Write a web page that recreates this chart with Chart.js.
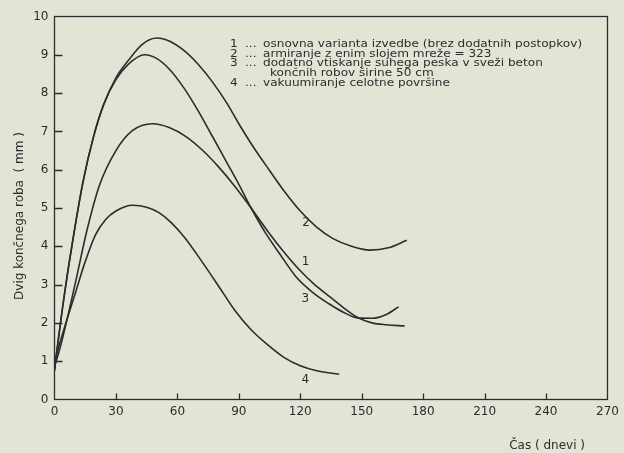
<!DOCTYPE html>
<html><head><meta charset="utf-8">
<script src="https://cdn.jsdelivr.net/npm/chart.js@4"></script>
<style>
html,body{margin:0;padding:0;background:#e4e4d6;}
canvas{display:block;}
</style></head><body>
<canvas id="c" width="624" height="453"></canvas>
<script>
// ---- data ----
const xTicks = [0, 30, 60, 90, 120, 150, 180, 210, 240, 270];
const yTicks = [0, 1, 2, 3, 4, 5, 6, 7, 8, 9, 10];

const seriesNumbers = ['1', '2', '3', '4'];
const seriesNames = [
  'osnovna varianta izvedbe (brez dodatnih postopkov)',
  'armiranje z enim slojem mreže = 323',
  'dodatno vtiskanje suhega peska v sveži beton končnih robov širine 50 cm',
  'vakuumiranje celotne površine'
];

const days1 = [0, 3, 10, 16, 22, 30, 38, 48, 56, 64, 72, 80, 88, 96, 104, 112, 120, 127, 134, 141, 148, 155, 162, 171];
const vals1 = [0.85, 1.4, 3.0, 4.45, 5.6, 6.5, 7.02, 7.2, 7.1, 6.87, 6.52, 6.08, 5.57, 5.0, 4.4, 3.85, 3.36, 3.0, 2.7, 2.4, 2.14, 2.0, 1.95, 1.92];

const days2 = [0, 1, 5, 10, 14, 19, 24, 30, 36, 43, 50, 56, 63, 70, 77, 84, 90, 97, 105, 112, 120, 128, 136, 145, 154, 163, 172];
const vals2 = [0.75, 1.2, 2.8, 4.5, 5.7, 6.85, 7.7, 8.4, 8.85, 9.28, 9.44, 9.36, 9.12, 8.76, 8.3, 7.75, 7.2, 6.6, 5.98, 5.45, 4.92, 4.5, 4.2, 4.0, 3.9, 3.96, 4.16];

const days3 = [0, 1, 5, 10, 14, 19, 24, 30, 36, 44, 50, 56, 63, 70, 77, 84, 90, 96, 103, 110, 118, 126, 134, 141, 148, 155, 162, 168];
const vals3 = [0.75, 1.2, 2.8, 4.5, 5.7, 6.85, 7.7, 8.35, 8.75, 9.0, 8.9, 8.63, 8.15, 7.55, 6.88, 6.2, 5.62, 5.0, 4.35, 3.8, 3.2, 2.8, 2.5, 2.28, 2.13, 2.12, 2.22, 2.42];

const days4 = [0, 3, 10, 15, 20, 25, 30, 38, 45, 51, 57, 64, 72, 80, 88, 96, 104, 112, 120, 128, 139];
const vals4 = [0.95, 1.55, 2.75, 3.6, 4.3, 4.7, 4.92, 5.07, 5.02, 4.88, 4.62, 4.2, 3.6, 2.97, 2.33, 1.82, 1.43, 1.1, 0.88, 0.75, 0.66];

// curve number labels placed on the plot (data coordinates)
const curveLabelText = ['1', '2', '3', '4'];
const curveLabelDay = [122.6, 122.8, 122.4, 122.4];
const curveLabelVal = [3.59, 4.61, 2.62, 0.51];

const xTitle = 'Čas ( dnevi )';
const yTitle = 'Dvig končnega roba  ( mm )';

// legend rows: number + text (row without number is a continuation line)
const legendNums = ['1', '2', '3', '', '4'];
const legendTexts = [
  'osnovna varianta izvedbe (brez dodatnih postopkov)',
  'armiranje z enim slojem mreže = 323',
  'dodatno vtiskanje suhega peska v sveži beton',
  'končnih robov širine 50 cm',
  'vakuumiranje celotne površine'
];

// ---- styles ----
const BG = '#e4e4d6';
const INK = '#2c2c2c';
const FONT = 'DejaVu Sans';

function pts(d, v) { return d.map((x, i) => ({ x: x, y: v[i] })); }
const allDays = [days1, days2, days3, days4];
const allVals = [vals1, vals2, vals3, vals4];

const datasets = seriesNames.map((name, i) => ({
  label: seriesNumbers[i] + ' ... ' + name,
  data: pts(allDays[i], allVals[i]),
  borderColor: INK,
  borderWidth: 1.6,
  pointRadius: 0,
  fill: false,
  cubicInterpolationMode: 'monotone'
}));

function stretchedText(ctx, t, x, yb, sx) {
  ctx.save();
  ctx.translate(x, yb);
  ctx.scale(sx, 1);
  ctx.fillText(t, 0, 0);
  ctx.restore();
}

const decor = {
  id: 'decor',
  beforeDraw(chart) {
    const ctx = chart.ctx;
    ctx.save();
    ctx.fillStyle = BG;
    ctx.fillRect(0, 0, chart.width, chart.height);
    ctx.restore();
  },
  afterDraw(chart) {
    const ctx = chart.ctx, a = chart.chartArea, x = chart.scales.x, y = chart.scales.y;
    ctx.save();
    ctx.strokeStyle = INK;
    ctx.lineWidth = 1.3;
    ctx.strokeRect(a.left, a.top, a.right - a.left, a.bottom - a.top);
    ctx.beginPath();
    xTicks.forEach(v => {
      if (v === xTicks[0] || v === xTicks[xTicks.length - 1]) return;
      const px = Math.round(x.getPixelForValue(v)) + 0.5;
      ctx.moveTo(px, a.bottom); ctx.lineTo(px, a.bottom - 6);
    });
    yTicks.forEach(v => {
      if (v === yTicks[0] || v === yTicks[yTicks.length - 1]) return;
      const py = Math.round(y.getPixelForValue(v)) + 0.5;
      ctx.moveTo(a.left, py); ctx.lineTo(a.left + 8, py);
    });
    ctx.stroke();

    ctx.fillStyle = INK;
    ctx.font = '11px "' + FONT + '"';
    ctx.textBaseline = 'alphabetic';
    ctx.textAlign = 'left';
    const baselines = [47, 56.5, 66, 76, 86];
    const SX = 1.1;
    legendTexts.forEach((t, i) => {
      const b = baselines[i];
      if (legendNums[i]) {
        stretchedText(ctx, legendNums[i], 230, b, SX);
        stretchedText(ctx, '...', 245, b, SX);
        stretchedText(ctx, t, 263, b, SX);
      } else {
        stretchedText(ctx, t, 270, b, SX);
      }
    });

    ctx.font = '12px "' + FONT + '"';
    ctx.textAlign = 'center';
    ctx.textBaseline = 'middle';
    curveLabelText.forEach((t, i) => {
      ctx.fillText(t, x.getPixelForValue(curveLabelDay[i]), y.getPixelForValue(curveLabelVal[i]));
    });

    ctx.textAlign = 'right';
    ctx.textBaseline = 'alphabetic';
    ctx.fillText(xTitle, 585, 449);

    ctx.save();
    ctx.translate(20, 216);
    ctx.rotate(-Math.PI / 2);
    ctx.textAlign = 'center';
    ctx.textBaseline = 'middle';
    ctx.fillText(yTitle, 0, 0);
    ctx.restore();
    ctx.restore();
  }
};

new Chart(document.getElementById('c'), {
  type: 'line',
  data: { datasets: datasets },
  options: {
    responsive: false,
    devicePixelRatio: 1,
    animation: false,
    layout: { padding: { top: 16.5, right: 16.5, left: 0, bottom: 0 } },
    plugins: { legend: { display: false }, tooltip: { enabled: false } },
    scales: {
      x: {
        type: 'linear', min: 0, max: 270,
        grid: { display: false, drawTicks: false },
        border: { display: false },
        ticks: { color: INK, font: { family: FONT, size: 12 }, padding: 5, maxRotation: 0 },
        afterBuildTicks: s => { s.ticks = xTicks.map(v => ({ value: v })); },
        afterFit: s => { s.height = 53.5; }
      },
      y: {
        type: 'linear', min: 0, max: 10,
        grid: { display: false, drawTicks: false },
        border: { display: false },
        ticks: { color: INK, font: { family: FONT, size: 12 }, padding: 6 },
        afterBuildTicks: s => { s.ticks = yTicks.map(v => ({ value: v })); },
        afterFit: s => { s.width = 54.5; }
      }
    }
  },
  plugins: [decor]
});
</script>
</body></html>
